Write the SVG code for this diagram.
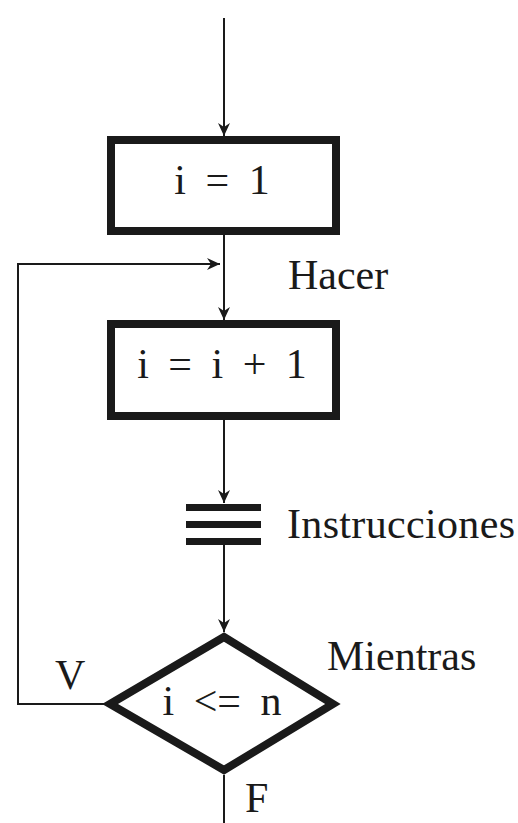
<svg xmlns="http://www.w3.org/2000/svg" width="518" height="823" viewBox="0 0 518 823">
<style>
.box{fill:#fff;stroke:#1a1a1a;stroke-width:8}
.ln{fill:none;stroke:#1a1a1a;stroke-width:2}
.t{font-family:"Liberation Serif",serif;font-size:42px;fill:#1a1a1a}
.f{word-spacing:9px}
.bar{fill:#1a1a1a}
</style>
<defs>
<marker id="ah" markerWidth="14" markerHeight="12" refX="13" refY="6" orient="auto" markerUnits="userSpaceOnUse">
<path d="M0,0 L13,6 L0,12 L4,6 Z" fill="#1a1a1a"/>
</marker>
</defs>
<rect width="518" height="823" fill="#fff"/>
<g id="connectors">
<line class="ln" x1="224" y1="18" x2="224" y2="136" marker-end="url(#ah)"/>
<line class="ln" x1="224" y1="235" x2="224" y2="320" marker-end="url(#ah)"/>
<line class="ln" x1="224" y1="420" x2="224" y2="503" marker-end="url(#ah)"/>
<line class="ln" x1="224" y1="545" x2="224" y2="632" marker-end="url(#ah)"/>
<polyline class="ln" points="104,704 18,704 18,264 220,264" marker-end="url(#ah)"/>
<line class="ln" x1="224" y1="775" x2="224" y2="823"/>
</g>
<g id="n1">
<rect class="box" x="111" y="140" width="225" height="91"/>
<text class="t f" x="222" y="194" text-anchor="middle">i = 1</text>
</g>
<g id="hacer">
<text class="t" x="288" y="289">Hacer</text>
</g>
<g id="n2">
<rect class="box" x="111" y="324" width="225" height="92"/>
<text class="t f" x="222" y="378" text-anchor="middle">i = i + 1</text>
</g>
<g id="n3">
<rect class="bar" x="186" y="504" width="75" height="7"/>
<rect class="bar" x="186" y="521" width="75" height="7"/>
<rect class="bar" x="186" y="538" width="75" height="7"/>
<text class="t" x="287" y="538" textLength="228">Instrucciones</text>
</g>
<g id="n4">
<polygon class="box" points="224,637 333,704 224,770 110,704"/>
<text class="t f" x="222" y="715" text-anchor="middle">i &lt;= n</text>
<text class="t" x="327" y="670">Mientras</text>
<text class="t" x="55" y="689">V</text>
<text class="t" x="245" y="812">F</text>
</g>
</svg>
